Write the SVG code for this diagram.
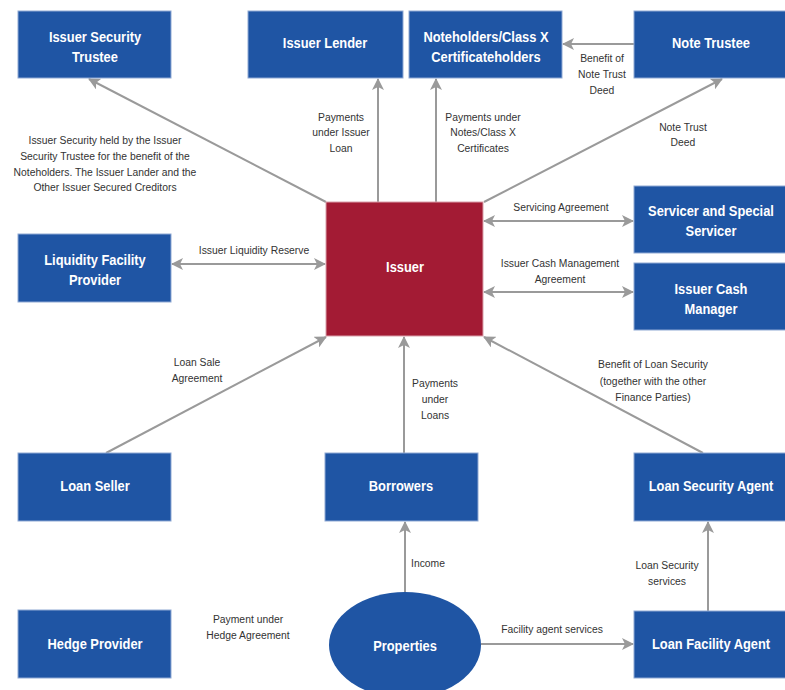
<svg xmlns="http://www.w3.org/2000/svg" width="785" height="690" viewBox="0 0 785 690">
<defs>
<marker id="ah" viewBox="0 0 12 12" refX="11" refY="6" markerWidth="12" markerHeight="12" markerUnits="userSpaceOnUse" orient="auto-start-reverse">
<path d="M0,0 L12,6 L0,12 L3,6 Z" fill="#9a9a9a"/>
</marker>
<style>
.box{fill:#1f55a4;stroke:#8fa9d4;stroke-width:1}
.iss{fill:#a31b34;stroke:#d9a0aa;stroke-width:1}
.nt{fill:#ffffff;font-family:"Liberation Sans",Arial,sans-serif;font-weight:bold;font-size:14px;text-anchor:middle;transform-box:fill-box;transform-origin:center;transform:scaleX(0.92)}
.lb{fill:#333333;font-family:"Liberation Sans",Arial,sans-serif;font-size:11.5px;text-anchor:middle;transform-box:fill-box;transform-origin:center;transform:scaleX(0.9)}
.cn{stroke:#9a9a9a;stroke-width:2;fill:none}
</style>
</defs>
<rect width="785" height="690" fill="#ffffff"/>
<g id="connectors">
<line class="cn" x1="326" y1="202" x2="89" y2="79" marker-end="url(#ah)"/>
<line class="cn" x1="378" y1="202" x2="378" y2="79" marker-end="url(#ah)"/>
<line class="cn" x1="436" y1="202" x2="436" y2="79" marker-end="url(#ah)"/>
<line class="cn" x1="484" y1="202" x2="722" y2="79" marker-end="url(#ah)"/>
<line class="cn" x1="634" y1="44" x2="563" y2="44" marker-end="url(#ah)"/>
<line class="cn" x1="172" y1="264" x2="325" y2="264" marker-start="url(#ah)" marker-end="url(#ah)"/>
<line class="cn" x1="484" y1="221" x2="633" y2="221" marker-start="url(#ah)" marker-end="url(#ah)"/>
<line class="cn" x1="484" y1="292" x2="633" y2="292" marker-start="url(#ah)" marker-end="url(#ah)"/>
<line class="cn" x1="106" y1="453" x2="326" y2="337" marker-end="url(#ah)"/>
<line class="cn" x1="404" y1="453" x2="404" y2="337" marker-end="url(#ah)"/>
<line class="cn" x1="703" y1="453" x2="484" y2="337" marker-end="url(#ah)"/>
<line class="cn" x1="405" y1="592" x2="405" y2="522" marker-end="url(#ah)"/>
<line class="cn" x1="708" y1="611" x2="708" y2="522" marker-end="url(#ah)"/>
<line class="cn" x1="481" y1="644" x2="633" y2="644" marker-end="url(#ah)"/>
</g>
<g id="labels">
<text class="lb" x="105" y="144">Issuer Security held by the Issuer</text>
<text class="lb" x="105" y="160">Security Trustee for the benefit of the</text>
<text class="lb" x="105" y="176">Noteholders. The Issuer Lander and the</text>
<text class="lb" x="105" y="191">Other Issuer Secured Creditors</text>
<text class="lb" x="341" y="121">Payments</text>
<text class="lb" x="341" y="136">under Issuer</text>
<text class="lb" x="341" y="152">Loan</text>
<text class="lb" x="483" y="121">Payments under</text>
<text class="lb" x="483" y="136">Notes/Class X</text>
<text class="lb" x="483" y="152">Certificates</text>
<text class="lb" x="602" y="62">Benefit of</text>
<text class="lb" x="602" y="78">Note Trust</text>
<text class="lb" x="602" y="94">Deed</text>
<text class="lb" x="683" y="131">Note Trust</text>
<text class="lb" x="683" y="146">Deed</text>
<text class="lb" x="561" y="211">Servicing Agreement</text>
<text class="lb" x="560" y="267">Issuer Cash Management</text>
<text class="lb" x="560" y="283">Agreement</text>
<text class="lb" x="254" y="254">Issuer Liquidity Reserve</text>
<text class="lb" x="197" y="366">Loan Sale</text>
<text class="lb" x="197" y="382">Agreement</text>
<text class="lb" x="435" y="387">Payments</text>
<text class="lb" x="435" y="403">under</text>
<text class="lb" x="435" y="419">Loans</text>
<text class="lb" x="653" y="368">Benefit of Loan Security</text>
<text class="lb" x="653" y="385">(together with the other</text>
<text class="lb" x="653" y="401">Finance Parties)</text>
<text class="lb" x="428" y="567">Income</text>
<text class="lb" x="667" y="569">Loan Security</text>
<text class="lb" x="667" y="585">services</text>
<text class="lb" x="552" y="633">Facility agent services</text>
<text class="lb" x="248" y="623">Payment under</text>
<text class="lb" x="248" y="639">Hedge Agreement</text>
</g>
<g id="issuer-security-trustee"><rect class="box" x="18" y="11" width="153" height="67"/><text class="nt" x="95" y="42">Issuer Security</text><text class="nt" x="95" y="62">Trustee</text></g>
<g id="issuer-lender"><rect class="box" x="248" y="11" width="155" height="67"/><text class="nt" x="325" y="48">Issuer Lender</text></g>
<g id="noteholders"><rect class="box" x="409" y="11" width="153" height="67"/><text class="nt" x="486" y="42">Noteholders/Class X</text><text class="nt" x="486" y="62">Certificateholders</text></g>
<g id="note-trustee"><rect class="box" x="634" y="11" width="152" height="67"/><text class="nt" x="711" y="48">Note Trustee</text></g>
<g id="liquidity-facility-provider"><rect class="box" x="18" y="234" width="153" height="68"/><text class="nt" x="95" y="265">Liquidity Facility</text><text class="nt" x="95" y="285">Provider</text></g>
<g id="issuer"><rect class="iss" x="326" y="202" width="157" height="134"/><text class="nt" x="405" y="272">Issuer</text></g>
<g id="servicer"><rect class="box" x="634" y="186" width="152" height="67"/><text class="nt" x="711" y="216">Servicer and Special</text><text class="nt" x="711" y="236">Servicer</text></g>
<g id="issuer-cash-manager"><rect class="box" x="634" y="263" width="152" height="67"/><text class="nt" x="711" y="294">Issuer Cash</text><text class="nt" x="711" y="314">Manager</text></g>
<g id="loan-seller"><rect class="box" x="18" y="453" width="153" height="68"/><text class="nt" x="95" y="491">Loan Seller</text></g>
<g id="borrowers"><rect class="box" x="325" y="453" width="153" height="68"/><text class="nt" x="401" y="491">Borrowers</text></g>
<g id="loan-security-agent"><rect class="box" x="634" y="453" width="152" height="68"/><text class="nt" x="711" y="491">Loan Security Agent</text></g>
<g id="hedge-provider"><rect class="box" x="18" y="610" width="153" height="68"/><text class="nt" x="95" y="649">Hedge Provider</text></g>
<g id="properties"><ellipse cx="405" cy="645" rx="76" ry="53" fill="#1f55a4"/><text class="nt" x="405" y="651">Properties</text></g>
<g id="loan-facility-agent"><rect class="box" x="634" y="611" width="152" height="67"/><text class="nt" x="711" y="649">Loan Facility Agent</text></g>
</svg>
